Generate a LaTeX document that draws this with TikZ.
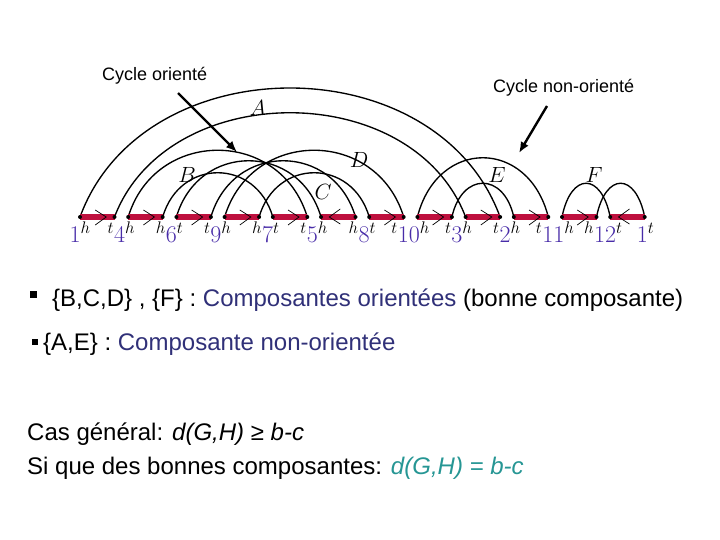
\documentclass[tikz,border=0pt]{standalone}
\usepackage{fix-cm}
\usepackage{fontspec}
\setmainfont{Liberation Sans}
\usepackage{xcolor}
\usepackage{tikz}
\usetikzlibrary{arrows.meta, calc, decorations.markings}
\definecolor{segred}{RGB}{190,16,62}
\definecolor{genenum}{RGB}{72,44,168}
\definecolor{navytext}{RGB}{48,48,120}
\definecolor{tealtext}{RGB}{38,150,148}
\newcommand{\gnum}[1]{{\color{genenum}#1}}

\begin{document}
\begin{tikzpicture}[
  x=1pt, y=-1pt,
  adj/.style={draw=segred, line width=6.5pt, postaction={decorate},
    decoration={markings, mark=at position 0.76 with
      {\draw[black, line width=0.7pt] (-11pt,7pt) -- (0pt,0pt) -- (-11pt,-8pt);}}},
  desire/.style={draw=black, line width=1.35pt},
  gene/.style={anchor=base, inner sep=0pt, font=\fontsize{24}{24}\selectfont},
  cyc/.style={anchor=center, inner sep=0pt, font=\fontsize{22}{22}\selectfont},
  callout/.style={anchor=base west, inner sep=0pt, font=\fontsize{18}{20}\selectfont},
  pointer/.style={-{Latex[length=11pt,width=9pt]}, line width=2.4pt},
  bullettxt/.style={anchor=base west, inner sep=0pt, font=\fontsize{24}{28}\selectfont},
  bulletsq/.style={fill=black, inner sep=0pt, minimum size=7pt}
]
  \useasboundingbox (0,0) rectangle (720,540);

  \coordinate (p1h)  at (80,217);
  \coordinate (p4t)  at (114.5,217);
  \coordinate (p4h)  at (128.2,217);
  \coordinate (p6h)  at (162.7,217);
  \coordinate (p6t)  at (176.4,217);
  \coordinate (p9t)  at (210.9,217);
  \coordinate (p9h)  at (224.6,217);
  \coordinate (p7h)  at (259.1,217);
  \coordinate (p7t)  at (272.8,217);
  \coordinate (p5t)  at (307.3,217);
  \coordinate (p5h)  at (321,217);
  \coordinate (p8h)  at (355.5,217);
  \coordinate (p8t)  at (369.2,217);
  \coordinate (p10t) at (403.7,217);
  \coordinate (p10h) at (417.4,217);
  \coordinate (p3t)  at (451.9,217);
  \coordinate (p3h)  at (465.6,217);
  \coordinate (p2t)  at (500.1,217);
  \coordinate (p2h)  at (513.8,217);
  \coordinate (p11t) at (548.3,217);
  \coordinate (p11h) at (562,217);
  \coordinate (p12h) at (596.5,217);
  \coordinate (p12t) at (610.2,217);
  \coordinate (p1t)  at (644.7,217);

  \draw[desire] (p1h)  .. controls +(63,-172) and +(-63,-172) .. (p2t);
  \draw[desire] (p4t)  .. controls +(53,-139) and +(-53,-139) .. (p3h);
  \draw[desire] (p4h)  .. controls +(27,-89) and +(-27,-89) .. (p5t);
  \draw[desire] (p6h)  .. controls +(17,-59) and +(-17,-59) .. (p7t);
  \draw[desire] (p6t)  .. controls +(22,-75) and +(-22,-75) .. (p5h);
  \draw[desire] (p9t)  .. controls +(22,-75) and +(-22,-75) .. (p8h);
  \draw[desire] (p9h)  .. controls +(27,-89) and +(-27,-89) .. (p10t);
  \draw[desire] (p7h)  .. controls +(17,-59) and +(-17,-59) .. (p8t);
  \draw[desire] (p10h) .. controls +(20,-79) and +(-20,-79) .. (p11t);
  \draw[desire] (p3t)  .. controls +(10,-45) and +(-10,-45) .. (p2h);
  \draw[desire] (p11h) .. controls +(9,-45) and +(-9,-45) .. (p12t);
  \draw[desire] (p12h) .. controls +(9,-45) and +(-9,-45) .. (p1t);

  \draw[adj] (p1h)  -- (p4t);
  \draw[adj] (p4h)  -- (p6h);
  \draw[adj] (p6t)  -- (p9t);
  \draw[adj] (p9h)  -- (p7h);
  \draw[adj] (p7t)  -- (p5t);
  \draw[adj] (p8h)  -- (p5h);
  \draw[adj] (p8t)  -- (p10t);
  \draw[adj] (p10h) -- (p3t);
  \draw[adj] (p3h)  -- (p2t);
  \draw[adj] (p2h)  -- (p11t);
  \draw[adj] (p11h) -- (p12h);
  \draw[adj] (p1t)  -- (p12t);

  \fill (p1h) circle (2) (p4t) circle (2) (p4h) circle (2) (p6h) circle (2)
        (p6t) circle (2) (p9t) circle (2) (p9h) circle (2) (p7h) circle (2)
        (p7t) circle (2) (p5t) circle (2) (p5h) circle (2) (p8h) circle (2)
        (p8t) circle (2) (p10t) circle (2) (p10h) circle (2) (p3t) circle (2)
        (p3h) circle (2) (p2t) circle (2) (p2h) circle (2) (p11t) circle (2)
        (p11h) circle (2) (p12h) circle (2) (p12t) circle (2) (p1t) circle (2);

  \node[gene] (g1h)  at ($(p1h)+(0,25)$)             {$\gnum{1}^{h}$};
  \node[gene] (g4)   at ($(p4t)!.5!(p4h)+(0,25)$)    {${}^{t}\gnum{4}^{h}$};
  \node[gene] (g6)   at ($(p6h)!.5!(p6t)+(0,25)$)    {${}^{h}\gnum{6}^{t}$};
  \node[gene] (g9)   at ($(p9t)!.5!(p9h)+(0,25)$)    {${}^{t}\gnum{9}^{h}$};
  \node[gene] (g7)   at ($(p7h)!.5!(p7t)+(0,25)$)    {${}^{h}\gnum{7}^{t}$};
  \node[gene] (g5)   at ($(p5t)!.5!(p5h)+(0,25)$)    {${}^{t}\gnum{5}^{h}$};
  \node[gene] (g8)   at ($(p8h)!.5!(p8t)+(0,25)$)    {${}^{h}\gnum{8}^{t}$};
  \node[gene] (g10)  at ($(p10t)!.5!(p10h)+(0,25)$)  {${}^{t}\gnum{10}^{h}$};
  \node[gene] (g3)   at ($(p3t)!.5!(p3h)+(0,25)$)    {${}^{t}\gnum{3}^{h}$};
  \node[gene] (g2)   at ($(p2t)!.5!(p2h)+(0,25)$)    {${}^{t}\gnum{2}^{h}$};
  \node[gene] (g11)  at ($(p11t)!.5!(p11h)+(0,25)$)  {${}^{t}\gnum{11}^{h}$};
  \node[gene] (g12)  at ($(p12h)!.5!(p12t)+(0,25)$)  {${}^{h}\gnum{12}^{t}$};
  \node[gene] (g1t)  at ($(p1t)+(1,25)$)             {$\gnum{1}^{t}$};

  \node[cyc] (cA) at (258,108) {$A$};
  \node[cyc] (cB) at (187,175) {$B$};
  \node[cyc] (cC) at (323,192) {$C$};
  \node[cyc] (cD) at (359,160) {$D$};
  \node[cyc] (cE) at (497,175) {$E$};
  \node[cyc] (cF) at (594,175) {$F$};

  \node[callout] (orlbl) at (102,81) {Cycle orienté};
  \node[callout] (nolbl) at (493,93) {Cycle non-orienté};
  \coordinate (orTail) at (178,93);
  \coordinate (orTip)  at (237,152);
  \coordinate (noTail) at (547,106);
  \coordinate (noTip)  at (519,153);
  \draw[pointer] (orTail) -- (orTip);
  \draw[pointer] (noTail) -- (noTip);

  \node[bulletsq] (sq1) at (33,294) {};
  \node[bullettxt] (bl1) at (52,306) {\{B,C,D\} , \{F\} : \textcolor{navytext}{Composantes orientées} (bonne composante)};
  \node[bulletsq, minimum size=6pt] (sq2) at (34.5,341.5) {};
  \node[bullettxt] (bl2) at (43,350) {\{A,E\} : \textcolor{navytext}{Composante non-orientée}};
  \node[bullettxt] (gen) at (27,440) {Cas général: \textit{d(G,H) ≥ b-c}};
  \node[bullettxt] (bon) at (27,474) {Si que des bonnes composantes: \textcolor{tealtext}{\textit{d(G,H) = b-c}}};
\end{tikzpicture}
\end{document}
